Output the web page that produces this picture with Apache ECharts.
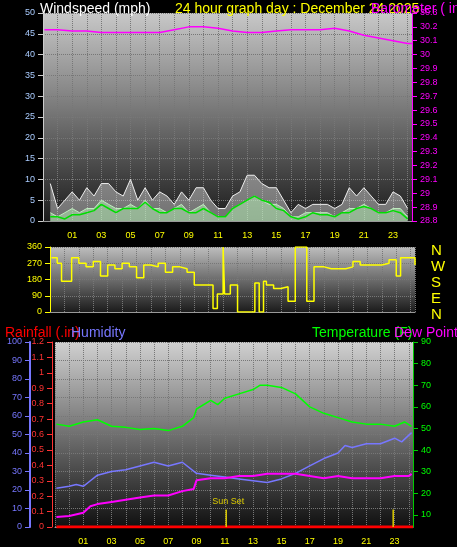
<!DOCTYPE html><html><head><meta charset="utf-8">
<script src="https://cdn.jsdelivr.net/npm/echarts@6/dist/echarts.min.js"></script>
<style>html,body{margin:0;background:#000}#c{width:457px;height:547px}</style></head><body><div id="c"></div><script>
const windHours=[-0.5,0,0.5,1,1.5,2,2.5,3,3.5,4,4.5,5,5.5,6,6.5,7,7.5,8,8.5,9,9.5,10,10.5,11,11.5,12,12.5,13,13.5,14,14.5,15,15.5,16,16.5,17,17.5,18,18.5,19,19.5,20,20.5,21,21.5,22,22.5,23,23.5,24];
const gust=[9,3,5,7,5,8,6,9,9,7,6,10,5,8,5,7,6,4,7,5,8,8,5,3,3,6,7,11,11,9,8,8,5,2,4,3,4,4,4,3,4,8,6,8,6,4,4,7,6,3];
const speed=[2,1,2,3,2,3,3,5,4,3,3,4,3,5,3,3,2,3,4,2,3,4,2,1,1,3,4,5,6,5,4,4,3,1,1,2,2,2,2,1,2,3,3,4,3,2,2,3,3,1];
const avgWind=[1,1,0.5,1.5,1.5,2,2.5,4,3,2,3,3,3,4.5,3,2,2,3,3,2,2,3,2,1,1,3,4,5,6,5,4.5,3,2.5,1,0.5,1,2,1.5,1.5,1,2,2,3,3.5,3,2,2,2.5,2,0.5];
const presHours=[-0.9,0,1,2,3,4,5,6,7,8,9,10,11,12,13,14,15,16,17,18,19,20,21,22,23,24,24.3];
const pressure=[30.18,30.18,30.17,30.17,30.16,30.16,30.16,30.16,30.16,30.18,30.2,30.2,30.19,30.17,30.16,30.16,30.17,30.18,30.18,30.18,30.19,30.17,30.14,30.12,30.1,30.08,30.08];
const dirHours=[-0.9,-0.5,-0.2,0.3,0.5,1,1.5,2,2.5,3,3.5,4,4.5,5,5.5,6,6.5,7,7.5,8,8.5,9,9.5,10,10.3,10.6,11,11.1,11.5,12,12.5,13,13.2,13.5,13.8,14,14.5,15,15.5,16,16.5,16.8,17.3,18,18.5,19,19.5,20,20.5,21,21.5,22,22.5,23,23.3,24,24.3];
const direction=[300,270,170,170,300,270,250,280,200,260,240,270,250,190,260,250,270,220,250,240,220,150,150,150,20,100,360,100,150,0,0,0,160,0,170,150,130,140,60,360,360,60,250,240,240,240,250,280,260,260,260,270,290,200,300,300,260];
const tHours=[-0.9,0,1,2,3,4,5,6,7,8,8.8,9,10,10.5,11,12,13,13.5,14,15,16,17,18,19,20,21,22,23,23.7,24.2];
const temperature=[52,51,53,54,51,50.5,49.5,50,49,51,55,59,63,61,64,66,68,70,70,69,66,60,57,55,53,52,52,51,53,51];
const humHours=[-0.9,0,0.5,1,1.5,2,3,4,5,6,7,8,9,10,11,12,13,14,15,16,17,18,19,19.5,20,21,22,23,23.5,24.2];
const humidity=[21,22,23,22,25,28,30,31,33,35,33,35,29,28,27,26,25,24,26,29,33,37,40,44,43,45,45,48,46,51];
const dewHours=[-0.9,0,1,1.5,2,3,4,5,6,7,8,8.8,9,10,11,12,13,14,15,16,17,18,19,20,21,22,23,24,24.2];
const dewPoint=[9,9.5,11,14,15,16,17,18,19,19,21,22,26,27,27,28,28,29,29,29,28,27,28,27,27,27,28,28,29];
const rainHours=[-0.9,24.3];const rain=[0,0];
const hourTicks=[1,3,5,7,9,11,13,15,17,19,21,23];
const sunHours=[11.1,22.9];

const pair=(h,v)=>h.map((x,i)=>[x,v[i]]);
const bg=(c1,c2)=>({type:'linear',x:0,y:0,x2:0,y2:1,colorStops:[{offset:0,color:c1},{offset:1,color:c2}]});
const xa=(gi,show)=>({type:'value',gridIndex:gi,min:-1,max:24.3,interval:1,
 axisLine:{show:true,onZero:false,lineStyle:{color:'#999'}},axisTick:{show:false},
 splitLine:{show:true,lineStyle:{color:'#777',type:'dotted'}},
 axisLabel:{show:show,customValues:hourTicks,color:'#ffff00',fontSize:9,margin:10,fontFamily:'Liberation Sans',
  formatter:v=>String(v).padStart(2,'0')}});
const lab=(c)=>({color:c,fontSize:9,fontFamily:'Liberation Sans'});
const dash={show:true,lineStyle:{color:'#777',type:'dotted'}};
const tl=(t,l,top,c)=>({text:t,left:l,top:top,textStyle:{color:c,fontSize:14,fontWeight:'normal',fontFamily:'Liberation Sans'}});
const ch=echarts.init(document.getElementById('c'));
ch.setOption({backgroundColor:'#000',animation:false,
 title:[
  tl('Windspeed (mph)',35,-3,'#fff'),
  tl('24 hour graph day : December 24 2025',170,-3,'#ffff00'),
  tl('Barometer ( in)',366,-3,'#ff00ff'),
  tl('Rainfall (.in)',0,321,'#ff0000'),
  tl('Humidity',66,321,'#7777ff'),
  tl('Temperature (F)',307,321,'#00ff00'),
  tl('Dew Point (',389,321,'#ff00ff'),
  {text:'N\nW\nS\nE\nN',left:426,top:238,textStyle:{color:'#ffff00',fontSize:15,fontWeight:'normal',lineHeight:16,fontFamily:'Liberation Sans'}}
 ],
 grid:[
  {left:43,right:45,top:13,bottom:326,show:true,borderWidth:0,backgroundColor:bg('#c8c8c8','#1c1c1c')},
  {left:50,right:42,top:247,bottom:235,show:true,borderWidth:0,backgroundColor:bg('#bdbdbd','#1c1c1c')},
  {left:55,right:44,top:342,bottom:20,show:true,borderWidth:0,backgroundColor:bg('#d0d0d0','#101010')}
 ],
 xAxis:[xa(0,true),xa(1,false),xa(2,true)],
 yAxis:[
  {type:'value',gridIndex:0,position:'left',min:0,max:50,interval:5,axisLabel:lab('#aaccff'),axisLine:{show:true,onZero:false,lineStyle:{color:'#ccc'}},axisTick:{show:true},splitLine:dash},
  {type:'value',gridIndex:0,position:'right',min:28.8,max:30.3,interval:0.1,axisLabel:lab('#ff00ff'),axisLine:{show:true,onZero:false,lineStyle:{color:'#ff00ff'}},axisTick:{show:true},splitLine:{show:false}},
  {type:'value',gridIndex:1,position:'left',min:0,max:360,interval:90,axisLabel:lab('#ffff00'),axisLine:{show:true,onZero:false,lineStyle:{color:'#ffff00'}},axisTick:{show:true},splitLine:dash},
  {type:'value',gridIndex:2,position:'left',min:0,max:100,interval:10,offset:25,axisLabel:lab('#7777ff'),axisLine:{show:true,onZero:false,lineStyle:{color:'#7777ff',width:2}},axisTick:{show:true},splitLine:dash},
  {type:'value',gridIndex:2,position:'left',min:0,max:1.2,interval:0.1,offset:3,axisLabel:lab('#ff3333'),axisLine:{show:true,onZero:false,lineStyle:{color:'#ff3333'}},axisTick:{show:true},splitLine:{show:false}},
  {type:'value',gridIndex:2,position:'right',min:4.4,max:90,axisLabel:Object.assign(lab('#00ff00'),{customValues:[10,20,30,40,50,60,70,80,90]}),axisTick:{show:true,customValues:[10,20,30,40,50,60,70,80,90]},axisLine:{show:true,onZero:false,lineStyle:{color:'#00cc00'}},splitLine:{show:false}}
 ],
 series:[
  {type:'line',xAxisIndex:0,yAxisIndex:0,data:pair(windHours,gust),symbol:'none',lineStyle:{color:'#eee',width:1},areaStyle:{color:'rgba(230,230,230,0.6)'}},
  {type:'line',xAxisIndex:0,yAxisIndex:0,data:pair(windHours,speed),symbol:'none',lineStyle:{color:'#bfeebf',width:1},areaStyle:{color:'rgba(180,240,180,0.75)'}},
  {type:'line',xAxisIndex:0,yAxisIndex:0,data:pair(windHours,avgWind),symbol:'none',lineStyle:{color:'#00dd00',width:1.5}},
  {type:'line',xAxisIndex:0,yAxisIndex:1,data:pair(presHours,pressure),symbol:'none',lineStyle:{color:'#ff00ff',width:1.5}},
  {type:'line',xAxisIndex:1,yAxisIndex:2,data:pair(dirHours,direction),step:'end',symbol:'none',lineStyle:{color:'#ffff00',width:1.5}},
  {type:'line',xAxisIndex:2,yAxisIndex:5,data:pair(tHours,temperature),symbol:'none',lineStyle:{color:'#00ff00',width:1.5}},
  {type:'line',xAxisIndex:2,yAxisIndex:3,data:pair(humHours,humidity),symbol:'none',lineStyle:{color:'#7777ff',width:1.5}},
  {type:'line',xAxisIndex:2,yAxisIndex:5,data:pair(dewHours,dewPoint),symbol:'none',lineStyle:{color:'#ff00ff',width:2}},
  {type:'line',xAxisIndex:2,yAxisIndex:4,data:pair(rainHours,rain),symbol:'none',lineStyle:{color:'#ff0000',width:3}},
  ...sunHours.map((h,i)=>({type:'line',xAxisIndex:2,yAxisIndex:3,data:[[h,0],[h,9.5]],symbol:'none',lineStyle:{color:'#ddcc00',width:1.5},
    endLabel:{show:i===0,formatter:'Sun Set',color:'#ddcc00',fontSize:9,fontFamily:'Liberation Sans',offset:[-22,-8]}}))
 ]});
</script></body></html>
